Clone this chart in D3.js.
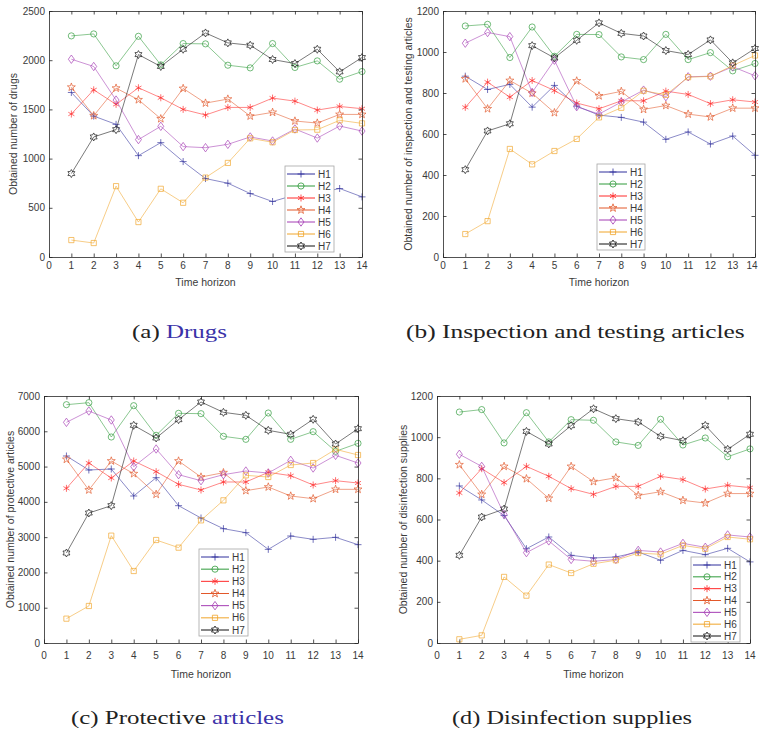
<!DOCTYPE html>
<html><head><meta charset="utf-8">
<script src="https://cdn.jsdelivr.net/npm/d3@7"></script>
<style>body{margin:0;background:#fff}svg{display:block}</style>
</head><body>
<script>
// ---------- DATA ----------
const timeSteps = [1,2,3,4,5,6,7,8,9,10,11,12,13,14];
const seriesNames = ["H1","H2","H3","H4","H5","H6","H7"];
const xTicks = [0,1,2,3,4,5,6,7,8,9,10,11,12,13,14];

const drugsValues = [
  [1672,1432,1348,1030,1162,970,797,750,645,564,630,650,696,611],
  [2247,2267,1943,2243,1953,2169,2166,1949,1922,2169,1926,1993,1807,1885],
  [1453,1699,1551,1720,1618,1500,1443,1520,1520,1615,1584,1493,1530,1507],
  [1726,1436,1716,1598,1405,1713,1564,1605,1432,1470,1382,1361,1449,1449],
  [2010,1936,1595,1193,1328,1122,1111,1145,1220,1179,1301,1209,1331,1280],
  [172,142,720,355,693,551,807,956,1206,1166,1291,1294,1389,1358],
  [848,1220,1294,2057,1936,2111,2277,2176,2152,2007,1966,2111,1882,2027]
];
const inspectionValues = [
  [882,817,842,731,837,736,692,681,658,574,610,551,590,496],
  [1127,1135,973,1122,979,1086,1085,976,963,1086,963,997,908,944],
  [730,853,780,861,812,751,723,762,762,809,793,748,767,756],
  [869,723,861,799,704,859,786,808,720,739,697,683,726,726],
  [1043,1095,1075,803,960,733,697,756,814,782,879,882,928,884],
  [112,175,527,452,517,576,681,728,811,791,877,881,934,983],
  [426,615,650,1031,971,1057,1142,1091,1078,1007,988,1059,947,1017]
];
const protectiveValues = [
  [5300,4903,4931,4166,4685,3892,3542,3240,3127,2654,3032,2938,2995,2787],
  [6754,6811,5838,6726,5885,6509,6499,5857,5772,6518,5772,5989,5432,5659],
  [4383,5101,4676,5158,4856,4497,4336,4563,4563,4837,4742,4478,4600,4534],
  [5205,4336,5158,4799,4213,5158,4704,4827,4317,4421,4166,4090,4355,4355],
  [6253,6575,6320,4997,5498,4770,4600,4770,4874,4818,5177,4959,5318,5101],
  [690,1049,3042,2040,2919,2702,3476,4043,4752,4704,5044,5101,5488,5328],
  [2551,3684,3892,6169,5810,6329,6830,6537,6452,6027,5913,6339,5640,6074]
];
const disinfectionValues = [
  [763,695,619,458,515,426,413,418,442,402,450,429,460,394],
  [1122,1134,972,1119,977,1085,1082,977,960,1087,962,996,905,943],
  [729,847,779,858,810,750,722,761,761,810,794,748,766,755],
  [866,722,858,798,703,858,784,803,717,735,693,680,726,726],
  [917,858,625,439,496,406,397,406,450,442,484,465,525,515],
  [18,37,321,230,381,340,385,402,437,431,474,458,515,504],
  [426,612,651,1028,967,1056,1138,1090,1074,1004,983,1057,941,1014]
];
const drugsTicks = [0,500,1000,1500,2000,2500];
const inspectionTicks = [0,200,400,600,800,1000,1200];
const protectiveTicks = [0,1000,2000,3000,4000,5000,6000,7000];
const disinfectionTicks = [0,200,400,600,800,1000,1200];

// ---------- STYLE ----------
const colors = ["#2f2f9c","#2e9a3a","#ff2a2a","#e2582a","#a43cb4","#f0a52a","#111111"];
const W = 759, H = 734;
const svg = d3.select("body").append("svg").attr("width",W).attr("height",H)
  .attr("font-family","'Liberation Sans', Arial, sans-serif");

function starPath(n, ro, ri){
  let p = [];
  for(let i=0;i<2*n;i++){
    const r = i%2===0?ro:ri;
    const a = -Math.PI/2 + i*Math.PI/n;
    p.push([r*Math.cos(a), r*Math.sin(a)]);
  }
  return "M"+p.map(d=>d[0].toFixed(2)+","+d[1].toFixed(2)).join("L")+"Z";
}
function asteriskPath(r){
  let s="";
  for(let i=0;i<3;i++){
    const a = Math.PI/2 + i*Math.PI/3;
    s += `M${(r*Math.cos(a)).toFixed(2)},${(r*Math.sin(a)).toFixed(2)}L${(-r*Math.cos(a)).toFixed(2)},${(-r*Math.sin(a)).toFixed(2)}`;
  }
  return s;
}
const markers = [
  "M-3.5,0H3.5M0,-3.5V3.5",
  d3.symbol(d3.symbolCircle, 30)(),
  asteriskPath(3.5),
  starPath(5,4.2,1.7),
  "M0,-4.2L3,0L0,4.2L-3,0Z",
  "M-2.6,-2.6H2.6V2.6H-2.6Z",
  starPath(6,4,2.3)
];

const panels = [
  {values:drugsValues, ticks:drugsTicks, ymax:2500, x0:49, x1:362, y0:11, y1:257,
   ylab:"Obtained number of drugs", ylabX:13, tickY:269, xlabY:286,
   leg:[285,166,49,86], cap:["(a) ","Drugs"], capX0:132, capX1:227, capY:338, capBlue:true},
  {values:inspectionValues, ticks:inspectionTicks, ymax:1200, x0:443, x1:755, y0:11, y1:257,
   ylab:"Obtained number of inspection and testing articles", ylabX:408, tickY:269, xlabY:286,
   leg:[597,164,48,86], cap:["(b) ","Inspection and testing articles"], capX0:406, capX1:745, capY:338, capBlue:false},
  {values:protectiveValues, ticks:protectiveTicks, ymax:7000, x0:44, x1:358, y0:396, y1:643,
   ylab:"Obtained number of protective articles", ylabX:10, tickY:659, xlabY:678,
   leg:[199,549,49,87], cap:["(c) Protective ","articles"], capX0:71, capX1:284, capY:724, capBlue:true},
  {values:disinfectionValues, ticks:disinfectionTicks, ymax:1200, x0:437, x1:750, y0:396, y1:643,
   ylab:"Obtained number of disinfection supplies", ylabX:403, tickY:659, xlabY:678,
   leg:[691,557,49,85], cap:["(d) ","Disinfection supplies"], capX0:452, capX1:692, capY:724, capBlue:false}
];

panels.forEach(p=>{
  const x = d3.scaleLinear().domain([0,14]).range([p.x0,p.x1]);
  const y = d3.scaleLinear().domain([0,p.ymax]).range([p.y1,p.y0]);
  const g = svg.append("g");
  const axc = "#262626", txc = "#3a3a3a";

  // data lines and markers
  p.values.forEach((vals,si)=>{
    const line = d3.line().x((d,i)=>x(timeSteps[i])).y(d=>y(d));
    g.append("path").attr("d",line(vals)).attr("fill","none")
      .attr("stroke",colors[si]).attr("stroke-width",0.8).attr("stroke-opacity",0.7);
    g.selectAll(null).data(vals).enter().append("path")
      .attr("d",markers[si])
      .attr("transform",(d,i)=>`translate(${x(timeSteps[i])},${y(d)})`)
      .attr("fill","none").attr("stroke",colors[si]).attr("stroke-width",0.8).attr("stroke-opacity",0.85);
  });

  // axes: box and inward ticks using d3 axes
  const tl = 3.5;
  const axB = g.append("g").attr("transform",`translate(0,${p.y1})`)
    .call(d3.axisBottom(x).tickValues(xTicks).tickSize(-tl).tickSizeOuter(0).tickFormat(""));
  const axT = g.append("g").attr("transform",`translate(0,${p.y0})`)
    .call(d3.axisTop(x).tickValues(xTicks).tickSize(-tl).tickSizeOuter(0).tickFormat(""));
  const axL = g.append("g").attr("transform",`translate(${p.x0},0)`)
    .call(d3.axisLeft(y).tickValues(p.ticks).tickSize(-tl).tickSizeOuter(0).tickFormat(""));
  const axR = g.append("g").attr("transform",`translate(${p.x1},0)`)
    .call(d3.axisRight(y).tickValues(p.ticks).tickSize(-tl).tickSizeOuter(0).tickFormat(""));
  [axB,axT,axL,axR].forEach(a=>{
    a.selectAll("path.domain").attr("stroke",axc).attr("stroke-width",0.8);
    a.selectAll(".tick line").attr("stroke",axc).attr("stroke-width",0.8);
  });
  // tick labels
  g.selectAll(null).data(xTicks).enter().append("text")
    .attr("x",d=>Math.min(x(d),752)).attr("y",p.tickY).attr("text-anchor","middle")
    .attr("font-size",10).attr("fill",txc).text(d=>d);
  g.selectAll(null).data(p.ticks).enter().append("text")
    .attr("x",p.x0-4).attr("y",d=>y(d)+3.5).attr("text-anchor","end")
    .attr("font-size",10).attr("fill",txc).text(d=>d);
  // axis labels
  g.append("text").attr("x",(p.x0+p.x1)/2).attr("y",p.xlabY).attr("text-anchor","middle")
    .attr("font-size",10.5).attr("fill",txc).text("Time horizon");
  g.append("text").attr("transform",`translate(${p.ylabX+3.5},${(p.y0+p.y1)/2}) rotate(-90)`)
    .attr("text-anchor","middle").attr("font-size",10.5).attr("fill",txc).text(p.ylab);

  // legend
  const [lx,ly,lw,lh] = p.leg;
  const lg = g.append("g");
  lg.append("rect").attr("x",lx).attr("y",ly).attr("width",lw).attr("height",lh)
    .attr("fill","#fff").attr("stroke","#a6a6a6").attr("stroke-width",0.8);
  seriesNames.forEach((n,si)=>{
    const yy = ly + 8 + si*((lh-14)/6);
    lg.append("line").attr("x1",lx+2).attr("x2",lx+30).attr("y1",yy).attr("y2",yy)
      .attr("stroke",colors[si]).attr("stroke-width",1);
    lg.append("path").attr("d",markers[si]).attr("transform",`translate(${lx+16},${yy})`)
      .attr("fill","none").attr("stroke",colors[si]).attr("stroke-width",0.8);
    lg.append("text").attr("x",lx+33).attr("y",yy+3.5).attr("font-size",10)
      .attr("fill",txc).text(n);
  });

  // caption (stretched horizontally to the reference width)
  const capG = svg.append("g");
  const cap = capG.append("text").attr("x",0).attr("y",0)
    .attr("font-family","'Liberation Serif','Times New Roman',serif").attr("font-size",18.5).attr("fill","#222");
  cap.append("tspan").text(p.cap[0]);
  cap.append("tspan").attr("fill",p.capBlue?"#3a32a8":"#222").text(p.cap[1]);
  const wNow = cap.node().getComputedTextLength();
  const sx = (p.capX1 - p.capX0) / wNow;
  capG.attr("transform",`translate(${p.capX0},${p.capY}) scale(${sx},1)`);
});
</script>
</body></html>
